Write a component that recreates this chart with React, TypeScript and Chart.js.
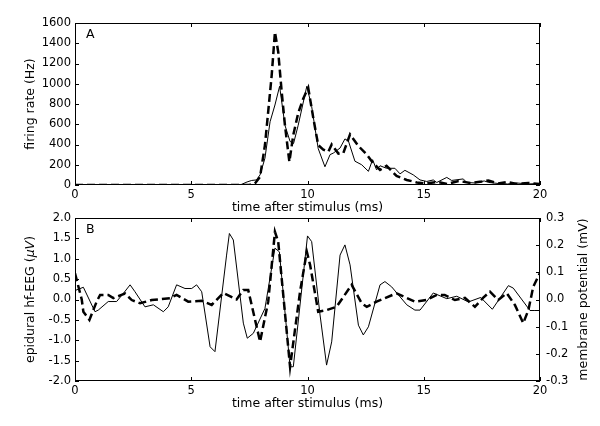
import React, { useEffect, useRef } from "react";
import { Chart, registerables } from "chart.js";
Chart.register(...registerables);

// ---------- Panel A: firing rate (Hz) ----------
const timeRateSolid = [0, 7.1, 7.4, 7.6, 7.8, 7.96, 8.17, 8.39, 8.6, 8.8, 9.03, 9.25, 9.4, 9.6, 9.97, 10.18, 10.46, 10.75, 10.97, 11.11, 11.4, 11.61, 11.76, 12.04, 12.33, 12.62, 12.8, 12.97, 13.12, 13.4, 13.76, 13.98, 14.19, 14.55, 14.84, 15.13, 15.41, 15.56, 15.99, 16.2, 16.7, 16.85, 17.2, 17.6, 17.8, 18.2, 18.6, 19.0, 19.5, 20];
const rateSolid = [0, 0, 30, 45, 50, 100, 265, 625, 790, 975, 590, 430, 410, 590, 975, 775, 360, 180, 300, 315, 365, 455, 435, 235, 200, 135, 250, 150, 190, 165, 165, 110, 145, 100, 50, 35, 50, 25, 75, 45, 60, 25, 20, 40, 25, 15, 10, 20, 10, 15];

const timeRateDashed = [0, 7.5, 7.74, 7.96, 8.17, 8.31, 8.46, 8.6, 8.74, 8.89, 9.03, 9.22, 9.39, 9.6, 9.82, 10.03, 10.25, 10.46, 10.68, 10.9, 11.04, 11.33, 11.54, 11.83, 12.19, 12.55, 12.83, 13.12, 13.4, 13.83, 14.27, 14.7, 15.1, 15.6, 16.0, 16.5, 17.0, 17.5, 17.78, 18.2, 18.6, 19.0, 19.5, 20];
const rateDashed = [0, 0, 15, 80, 395, 725, 1085, 1510, 1315, 920, 590, 230, 495, 710, 855, 960, 660, 395, 350, 330, 400, 310, 315, 500, 385, 300, 215, 150, 190, 90, 50, 25, 15, 30, 10, 40, 20, 35, 45, 15, 30, 10, 20, 10];

const rateTicks = { min: 0, max: 1600, step: 200 };

// ---------- Panel B: hf-EEG (uV) and membrane potential (mV) ----------
const timeEegSolid = [0, 0.36, 0.86, 1.0, 1.43, 1.79, 2.08, 2.37, 2.58, 3.01, 3.37, 3.8, 4.01, 4.37, 4.73, 5.02, 5.23, 5.45, 5.81, 6.02, 6.52, 6.64, 6.81, 7.24, 7.41, 7.67, 8.17, 8.6, 8.79, 9.25, 9.39, 10.0, 10.18, 10.54, 10.82, 11.04, 11.4, 11.61, 11.83, 12.19, 12.4, 12.62, 13.12, 13.33, 13.62, 14.27, 14.62, 14.84, 15.41, 15.99, 16.42, 16.92, 17.45, 17.95, 18.64, 18.85, 19.57, 19.78, 20];
const eegSolid = [0.22, 0.3, -0.3, -0.26, -0.05, -0.05, 0.15, 0.36, 0.19, -0.18, -0.13, -0.3, -0.18, 0.36, 0.27, 0.27, 0.36, 0.19, -1.16, -1.28, 1.09, 1.62, 1.46, -0.58, -0.95, -0.83, -0.22, 1.26, 1.17, -1.65, -1.65, 1.56, 1.42, -0.38, -1.61, -1.04, 1.09, 1.34, 0.85, -0.63, -0.87, -0.67, 0.36, 0.44, 0.31, -0.13, -0.26, -0.26, 0.16, 0.02, 0.08, -0.06, 0.05, -0.24, 0.34, 0.28, -0.27, -0.27, -0.27];

const timeVmDashed = [0, 0.29, 0.36, 0.62, 0.93, 1.08, 1.43, 1.65, 2.0, 2.15, 2.44, 2.8, 3.3, 4.09, 4.37, 4.87, 5.45, 5.88, 6.38, 6.95, 7.24, 7.45, 7.96, 8.31, 8.6, 8.74, 9.25, 9.68, 9.97, 10.11, 10.46, 10.82, 11.25, 11.9, 12.33, 12.55, 12.97, 13.83, 14.62, 15.1, 15.56, 15.9, 16.34, 16.77, 17.2, 17.55, 17.85, 18.2, 18.57, 18.92, 19.28, 19.5, 19.71, 20];
const vmDashed = [0.096, 0.0, -0.045, -0.075, -0.008, 0.017, 0.017, 0.005, 0.017, 0.022, -0.002, -0.014, -0.002, 0.005, 0.017, -0.008, -0.005, -0.02, 0.024, 0.0, 0.035, 0.035, -0.155, -0.008, 0.249, 0.213, -0.248, 0.029, 0.176, 0.128, -0.045, -0.039, -0.027, 0.054, -0.014, -0.027, -0.008, 0.023, -0.008, -0.002, 0.017, 0.017, -0.002, 0.006, -0.027, 0.006, 0.029, -0.002, 0.023, -0.02, -0.087, -0.039, 0.047, 0.098];

const eegTicks = { min: -2, max: 2, step: 0.5 };
const vmTicks = { min: -0.3, max: 0.3, step: 0.1 };
const timeTicks = { min: 0, max: 20, step: 5 };

const xTitle = "time after stimulus (ms)";
const FONT = "'DejaVu Sans', sans-serif";
const TICK_FONT = { family: FONT, size: 11.5 };
const TITLE_PX = 12.5;

const pts = (xs: number[], ys: number[]) => xs.map((x, i) => ({ x, y: ys[i] }));
const fmt1 = (v: number) => (Math.abs(v) < 1e-9 ? "0.0" : Number(v).toFixed(1));
const fmt0 = (v: number) => String(Math.round(Number(v)));

type Part = { text: string; italic?: boolean };

function drawParts(ctx: CanvasRenderingContext2D, parts: Part[], cx: number, cy: number, angle: number) {
  ctx.save();
  ctx.translate(cx, cy);
  ctx.rotate(angle);
  ctx.fillStyle = "#000";
  ctx.textBaseline = "middle";
  ctx.textAlign = "left";
  const fonts = parts.map((p) => `${p.italic ? "italic " : ""}${TITLE_PX}px ${FONT}`);
  const widths = parts.map((p, i) => {
    ctx.font = fonts[i];
    return ctx.measureText(p.text).width;
  });
  const total = widths.reduce((a, b) => a + b, 0);
  let x = -total / 2;
  parts.forEach((p, i) => {
    ctx.font = fonts[i];
    ctx.fillText(p.text, x, 0);
    x += widths[i];
  });
  ctx.restore();
}

function decoPlugin(cfg: { letter: string; yTitle: Part[]; rightTitle?: string }) {
  return {
    id: "deco",
    afterDraw(chart: any) {
      const { ctx, chartArea: a } = chart;
      const L = Math.round(a.left), R = Math.round(a.right), T = Math.round(a.top), B = Math.round(a.bottom);
      ctx.save();
      ctx.strokeStyle = "#000";
      ctx.lineWidth = 1;
      const line = (x1: number, y1: number, x2: number, y2: number) => {
        ctx.beginPath();
        ctx.moveTo(x1, y1);
        ctx.lineTo(x2, y2);
        ctx.stroke();
      };
      const tl = 4;
      const xs = chart.scales.x;
      xs.ticks.forEach((t: any) => {
        const px = Math.round(xs.getPixelForValue(t.value)) + 0.5;
        line(px, B, px, B - tl);
        line(px, T, px, T + tl);
      });
      const ys = chart.scales.y;
      ys.ticks.forEach((t: any) => {
        const py = Math.round(ys.getPixelForValue(t.value)) + 0.5;
        line(L, py, L + tl, py);
        if (!chart.scales.y1) line(R, py, R - tl, py);
      });
      if (chart.scales.y1) {
        const y1 = chart.scales.y1;
        y1.ticks.forEach((t: any) => {
          const py = Math.round(y1.getPixelForValue(t.value)) + 0.5;
          line(R, py, R - tl, py);
        });
      }
      ctx.strokeRect(L + 0.5, T + 0.5, R - L - 1, B - T - 1);
      ctx.restore();

      ctx.save();
      ctx.fillStyle = "#000";
      ctx.font = `${TITLE_PX}px ${FONT}`;
      ctx.textBaseline = "middle";
      ctx.textAlign = "left";
      ctx.fillText(cfg.letter, L + 11, T + 12);
      ctx.restore();

      drawParts(ctx, [{ text: xTitle }], (L + R) / 2, B + 23, 0);
      drawParts(ctx, cfg.yTitle, 31, (T + B) / 2, -Math.PI / 2);
      if (cfg.rightTitle) drawParts(ctx, [{ text: cfg.rightTitle }], 584, (T + B) / 2, -Math.PI / 2);
    },
  };
}

const xScale = (h: number) => ({
  type: "linear",
  min: timeTicks.min,
  max: timeTicks.max,
  grid: { display: false, drawTicks: false },
  border: { display: false },
  ticks: { stepSize: timeTicks.step, color: "#000", font: TICK_FONT, padding: 3, maxRotation: 0, callback: (v: any) => fmt0(v) },
  afterFit: (s: any) => {
    s.height = h;
  },
});

export default function App() {
  const topRef = useRef<HTMLCanvasElement>(null);
  const botRef = useRef<HTMLCanvasElement>(null);

  useEffect(() => {
    const top = new Chart(topRef.current!, {
      type: "line",
      data: {
        datasets: [
          {
            data: pts(timeRateDashed, rateDashed),
            borderColor: "#000",
            borderWidth: 2.5,
            borderDash: [8, 4],
            pointRadius: 0,
            tension: 0,
          },
          {
            data: pts(timeRateSolid, rateSolid),
            borderColor: "#000",
            borderWidth: 1,
            pointRadius: 0,
            tension: 0,
          },
        ],
      },
      options: {
        animation: false,
        responsive: false,
        events: [],
        layout: { padding: { top: 23, right: 60, left: 0, bottom: 0 } },
        plugins: { legend: { display: false }, tooltip: { enabled: false } },
        scales: {
          x: xScale(41) as any,
          y: {
            type: "linear",
            min: rateTicks.min,
            max: rateTicks.max,
            grid: { display: false, drawTicks: false },
            border: { display: false },
            ticks: { stepSize: rateTicks.step, color: "#000", font: TICK_FONT, padding: 4, callback: (v: any) => fmt0(v) },
            afterFit: (s: any) => {
              s.width = 75;
            },
          },
        },
      },
      plugins: [decoPlugin({ letter: "A", yTitle: [{ text: "firing rate (Hz)" }] })],
    });

    const bot = new Chart(botRef.current!, {
      type: "line",
      data: {
        datasets: [
          {
            data: pts(timeVmDashed, vmDashed),
            yAxisID: "y1",
            borderColor: "#000",
            borderWidth: 2.5,
            borderDash: [8, 4],
            pointRadius: 0,
            tension: 0,
          },
          {
            data: pts(timeEegSolid, eegSolid),
            yAxisID: "y",
            borderColor: "#000",
            borderWidth: 1,
            pointRadius: 0,
            tension: 0,
          },
        ],
      },
      options: {
        animation: false,
        responsive: false,
        events: [],
        layout: { padding: { top: 18, right: 0, left: 0, bottom: 0 } },
        plugins: { legend: { display: false }, tooltip: { enabled: false } },
        scales: {
          x: xScale(45) as any,
          y: {
            type: "linear",
            position: "left",
            min: eegTicks.min,
            max: eegTicks.max,
            grid: { display: false, drawTicks: false },
            border: { display: false },
            ticks: { stepSize: eegTicks.step, color: "#000", font: TICK_FONT, padding: 4, callback: (v: any) => fmt1(v) },
            afterFit: (s: any) => {
              s.width = 75;
            },
          },
          y1: {
            type: "linear",
            position: "right",
            min: vmTicks.min,
            max: vmTicks.max,
            grid: { display: false, drawTicks: false },
            border: { display: false },
            ticks: { stepSize: vmTicks.step, color: "#000", font: TICK_FONT, padding: 6, callback: (v: any) => fmt1(v) },
            afterFit: (s: any) => {
              s.width = 60;
            },
          },
        },
      },
      plugins: [
        decoPlugin({
          letter: "B",
          yTitle: [{ text: "epidural hf-EEG (" }, { text: "μV", italic: true }, { text: ")" }],
          rightTitle: "membrane potential (mV)",
        }),
      ],
    });

    return () => {
      top.destroy();
      bot.destroy();
    };
  }, []);

  return (
    <div style={{ position: "absolute", left: 0, top: 0, width: 600, height: 426, background: "#fff" }}>
      <canvas ref={topRef} width={600} height={226} style={{ position: "absolute", left: 0, top: 0 }} />
      <canvas ref={botRef} width={600} height={226} style={{ position: "absolute", left: 0, top: 200 }} />
    </div>
  );
}
